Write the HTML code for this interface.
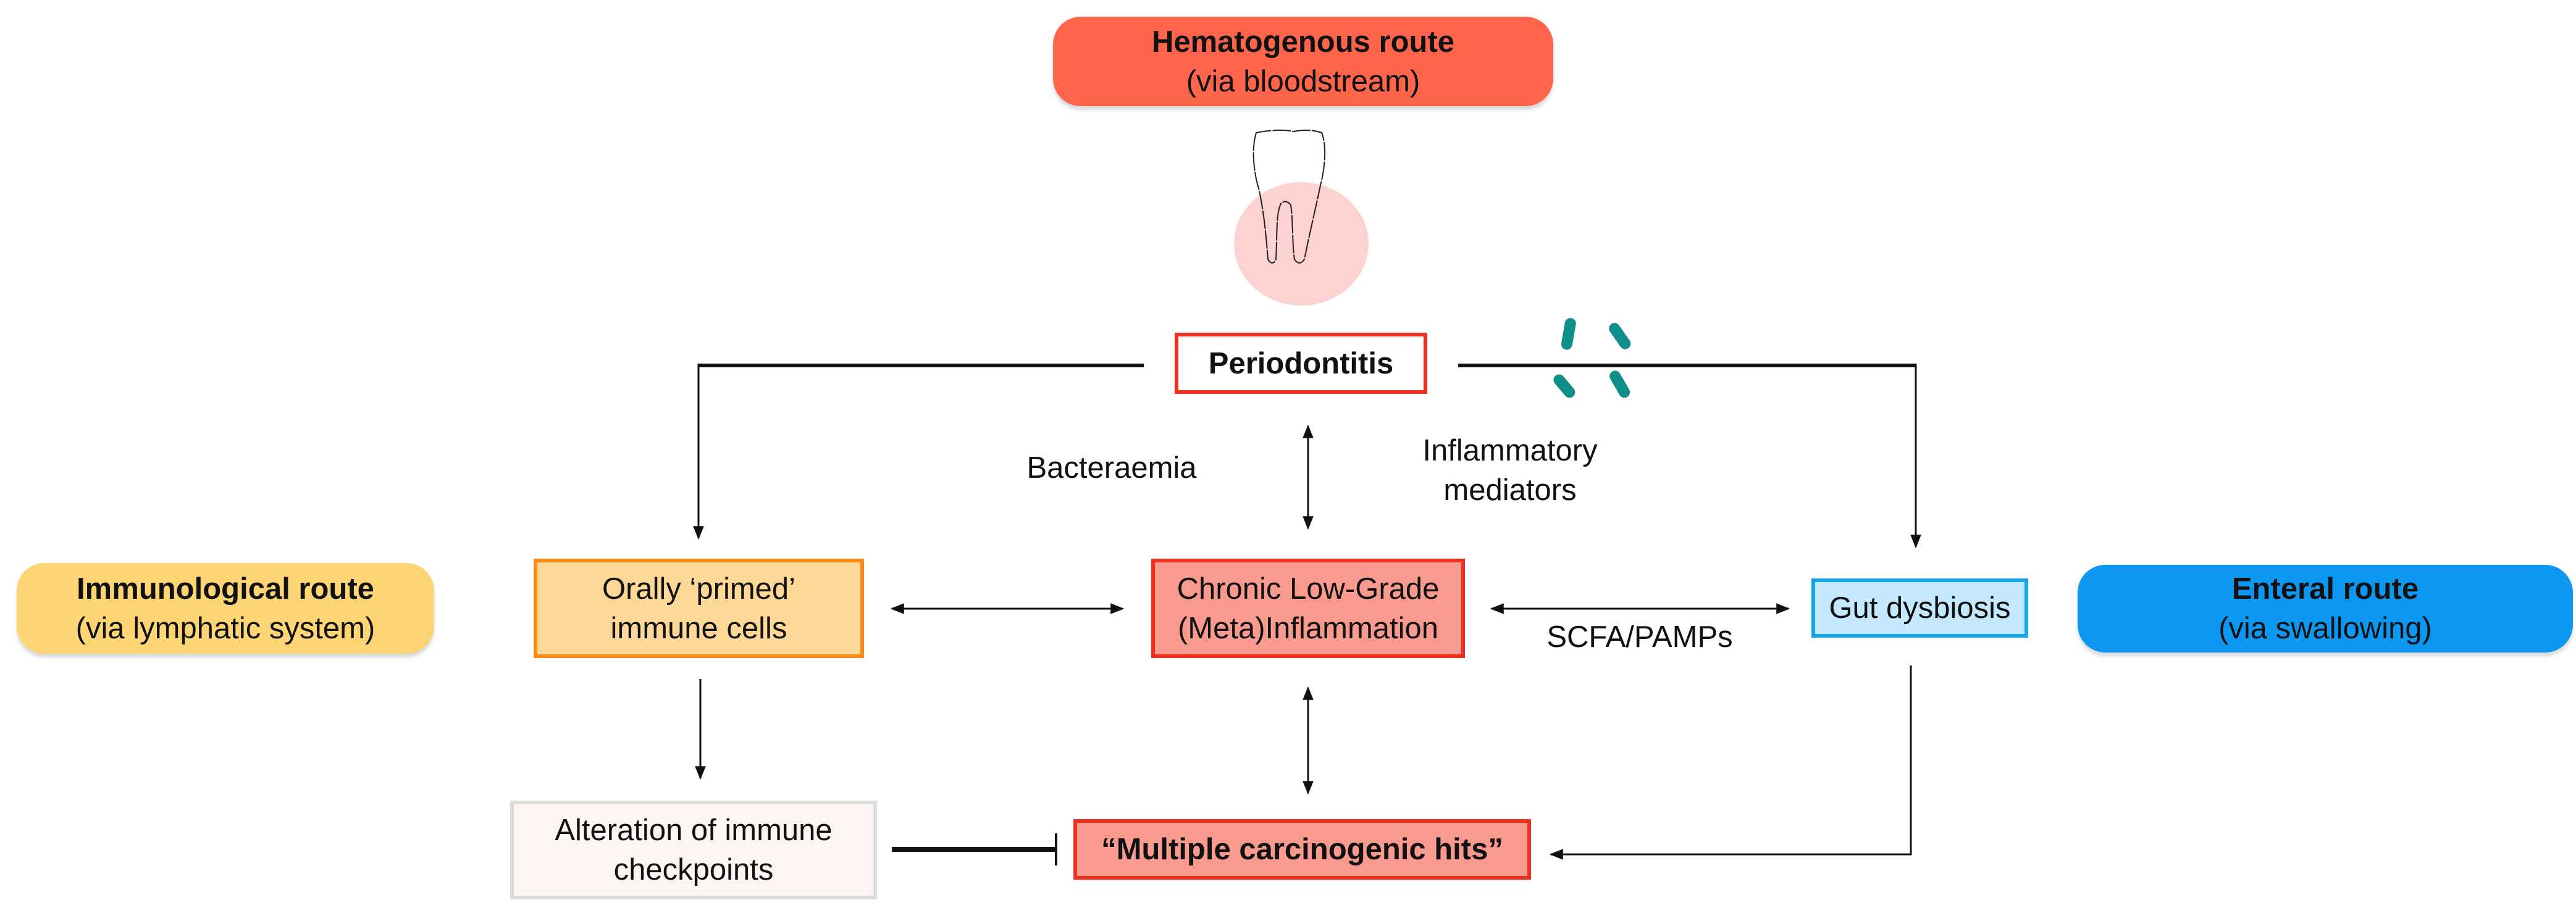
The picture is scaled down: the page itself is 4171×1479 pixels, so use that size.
<!DOCTYPE html>
<html><head><meta charset="utf-8"><style>
body{margin:0;width:4171px;height:1479px;background:#fff;position:relative;overflow:hidden;font-family:"Liberation Sans",Arial,sans-serif;}
.b{position:absolute;box-sizing:border-box;display:flex;flex-direction:column;align-items:center;justify-content:center;text-align:center;font-size:49px;line-height:64px;color:#111;}
.t{position:absolute;font-size:49px;line-height:64px;color:#111;text-align:center;}
svg{position:absolute;left:0;top:0;}
</style></head><body>
<svg width="4171" height="1479" viewBox="0 0 4171 1479">
<defs>
<marker id="A" viewBox="0 0 10 10" refX="9" refY="5" markerWidth="22" markerHeight="22" orient="auto-start-reverse" markerUnits="userSpaceOnUse"><path d="M0,1L10,5L0,9z" fill="#111"/></marker>
</defs>
<ellipse cx="2107" cy="395" rx="109" ry="100" fill="#fdd3d1"/>
<path d="M2034,215 C2026,240 2030,280 2038,305 C2046,340 2050,380 2053,420 Q2060,432 2066,420 C2068,380 2066,345 2074,330 Q2082,322 2090,332 C2094,360 2092,395 2096,420 Q2104,432 2112,420 C2120,380 2132,330 2138,300 C2146,270 2148,235 2140,215 Q2120,208 2095,213 Q2070,208 2034,215z" fill="none" stroke="#222" stroke-width="2" stroke-dasharray="30 2"/>
<g fill="#0f8f8a">
<rect x="2531" y="515" width="18" height="52" rx="9" transform="rotate(10 2541 540)"/>
<rect x="2613" y="520" width="18" height="48" rx="9" transform="rotate(-35 2623 543)"/>
<rect x="2523" y="603" width="18" height="44" rx="9" transform="rotate(-40 2533 624)"/>
<rect x="2613" y="598" width="18" height="48" rx="9" transform="rotate(-30 2623 621)"/>
</g>
<g stroke="#111" fill="none">
<path d="M1852,592 H1131" stroke-width="6"/>
<path d="M2361,592 H3102" stroke-width="6"/>
<line x1="1131" y1="589" x2="1131" y2="872" stroke-width="3" marker-end="url(#A)"/>
<line x1="3102" y1="589" x2="3102" y2="886" stroke-width="3" marker-end="url(#A)"/>
<line x1="2118" y1="690" x2="2118" y2="856" stroke-width="3" marker-start="url(#A)" marker-end="url(#A)"/>
<line x1="1444" y1="986" x2="1818" y2="986" stroke-width="3" marker-start="url(#A)" marker-end="url(#A)"/>
<line x1="2415" y1="986" x2="2896" y2="986" stroke-width="3" marker-start="url(#A)" marker-end="url(#A)"/>
<line x1="1134" y1="1100" x2="1134" y2="1261" stroke-width="3" marker-end="url(#A)"/>
<line x1="2118" y1="1114" x2="2118" y2="1285" stroke-width="3" marker-start="url(#A)" marker-end="url(#A)"/>
<path d="M3094,1078 V1384 H2520" stroke-width="3"/>
<line x1="2560" y1="1384" x2="2511" y2="1384" stroke-width="3" marker-end="url(#A)"/>
<line x1="1444" y1="1376" x2="1708" y2="1376" stroke-width="8"/>
<line x1="1710" y1="1350" x2="1710" y2="1402" stroke-width="4"/>
</g>
</svg>
<div class="b" style="left:1705px;top:27px;width:810px;height:145px;background:#fe654b;border-radius:45px;box-shadow:0 6px 6px rgba(0,0,0,.15)"><b>Hematogenous route</b><span>(via bloodstream)</span></div>
<div class="b" style="left:1902px;top:539px;width:409px;height:99px;border:6px solid #f0301e;background:#fff"><b>Periodontitis</b></div>
<div class="t" style="left:1630px;top:726px;width:340px">Bacteraemia</div>
<div class="t" style="left:2270px;top:698px;width:350px">Inflammatory<br>mediators</div>
<div class="b" style="left:27px;top:912px;width:676px;height:147px;background:#fed575;border-radius:45px;box-shadow:0 6px 6px rgba(0,0,0,.15)"><b>Immunological route</b><span>(via lymphatic system)</span></div>
<div class="b" style="left:864px;top:905px;width:535px;height:161px;border:6px solid #fb8a17;background:#fed896"><span>Orally ‘primed’</span><span>immune cells</span></div>
<div class="b" style="left:1864px;top:905px;width:508px;height:161px;border:6px solid #f0301e;background:#f89a8e"><span>Chronic Low-Grade</span><span>(Meta)Inflammation</span></div>
<div class="t" style="left:2470px;top:1000px;width:370px">SCFA/PAMPs</div>
<div class="b" style="left:2933px;top:937px;width:351px;height:96px;border:6px solid #17a6ea;background:#c4e8fd"><span>Gut dysbiosis</span></div>
<div class="b" style="left:3364px;top:915px;width:802px;height:142px;background:#0b97f2;border-radius:45px;box-shadow:0 6px 6px rgba(0,0,0,.15)"><b>Enteral route</b><span>(via swallowing)</span></div>
<div class="b" style="left:826px;top:1297px;width:594px;height:160px;border:6px solid #dcdcdc;background:#fdf4f4"><span>Alteration of immune</span><span>checkpoints</span></div>
<div class="b" style="left:1738px;top:1327px;width:741px;height:98px;border:6px solid #f0301e;background:#f89a8e"><b>“Multiple carcinogenic hits”</b></div>
</body></html>
